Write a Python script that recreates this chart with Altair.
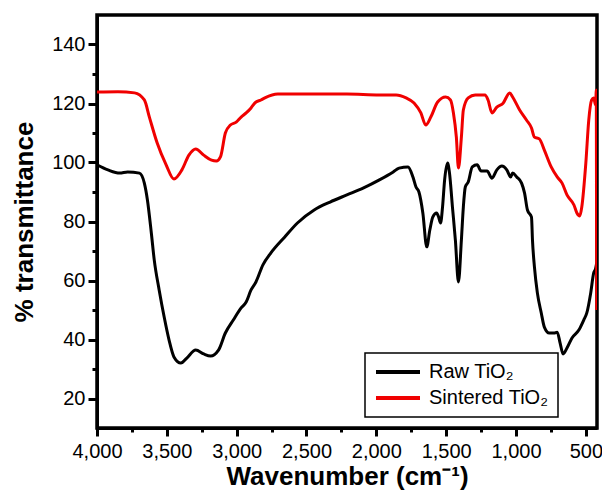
import altair as alt
import pandas as pd

# Raw TiO2 (black)
wn_raw = [4000, 3922, 3837, 3781, 3696, 3661, 3639, 3611, 3590, 3555, 3519, 3484, 3449, 3399,
          3357, 3293, 3236, 3187, 3130, 3081, 3024, 2968, 2932, 2897, 2862, 2812, 2756, 2657,
          2565, 2445, 2331, 2211, 2091, 1978, 1879, 1837, 1773, 1738, 1716, 1695, 1667, 1639,
          1617, 1596, 1568, 1554, 1540, 1526, 1511, 1490, 1476, 1455, 1434, 1412, 1391, 1377,
          1363, 1342, 1313, 1278, 1250, 1207, 1172, 1137, 1101, 1066, 1038, 1024, 995, 960,
          939, 918, 889, 882, 868, 847, 819, 797, 762, 727, 705, 684, 663, 635, 599, 550,
          515, 493, 465, 444, 430, 422]
t_raw = [99.2, 97.5, 96.4, 96.8, 96.4, 93.0, 87.3, 76.1, 66.9, 56.8, 47.6, 39.8, 34.1, 32.0,
         33.7, 36.4, 35.1, 34.4, 36.4, 42.2, 46.6, 50.7, 52.7, 56.8, 59.5, 65.3, 69.3, 74.7,
         79.5, 83.9, 86.6, 89.0, 91.4, 94.1, 96.8, 98.1, 98.5, 95.1, 91.7, 90.0, 82.9, 71.4,
         77.1, 81.5, 82.9, 81.5, 79.5, 84.9, 94.1, 99.8, 96.4, 84.9, 73.7, 59.5, 73.7, 84.9,
         91.7, 93.4, 98.5, 99.2, 97.1, 97.1, 94.7, 97.5, 98.8, 97.5, 95.1, 96.4, 95.1, 93.0,
         89.7, 83.9, 81.5, 73.7, 64.6, 55.8, 49.0, 44.2, 42.2, 42.2, 42.5, 38.8, 35.1, 37.1, 40.5, 43.2,
         46.6, 49.0, 55.8, 62.5, 64.0, 66.0]

# Sintered TiO2 (red)
wn_sint = [4000, 3850, 3731, 3661, 3625, 3569, 3505, 3449, 3392, 3342, 3293, 3236, 3180, 3145,
           3116, 3081, 3045, 3003, 2968, 2932, 2897, 2869, 2826, 2798, 2706, 2445, 2211, 1978,
           1858, 1787, 1730, 1681, 1646, 1610, 1561, 1504, 1469, 1448, 1427, 1412, 1391, 1377,
           1342, 1292, 1222, 1200, 1172, 1137, 1094, 1045, 1024, 974, 925, 889, 868, 833,
           797, 748, 705, 670, 635, 585, 564, 543, 529, 500, 479, 458, 444, 430, 425, 422]
t_sint = [123.9, 124.0, 123.6, 121.2, 115.4, 106.6, 99.2, 94.4, 97.5, 102.5, 104.6, 102.5, 100.8, 100.5,
          101.9, 110.0, 112.7, 113.7, 115.4, 116.8, 118.5, 120.2, 121.2, 121.9, 123.2, 123.2, 123.2, 122.9,
          122.9, 121.9, 120.2, 116.8, 112.7, 115.4, 120.5, 122.2, 121.2, 116.8, 108.6, 98.1, 108.6, 117.8,
          121.9, 122.9, 122.9, 121.2, 116.8, 118.8, 120.0, 123.6, 122.2, 117.8, 114.4, 111.7, 108.6, 108.0,
          104.2, 98.5, 95.1, 93.0, 89.0, 85.6, 82.9, 81.9, 84.9, 99.8, 114.4, 121.2, 121.9, 119.5, 124.5, 50.0]

series_names = ["Raw TiO\u2082", "Sintered TiO\u2082"]
series_colors = ["#000000", "#f00000"]

x_ticks = [4000, 3750, 3500, 3250, 3000, 2750, 2500, 2250, 2000, 1750, 1500, 1250, 1000, 750, 500]
y_ticks = [20, 30, 40, 50, 60, 70, 80, 90, 100, 110, 120, 130, 140]

df = pd.concat([
    pd.DataFrame({"wn": wn_raw, "t": t_raw, "s": series_names[0], "o": range(len(wn_raw))}),
    pd.DataFrame({"wn": wn_sint, "t": t_sint, "s": series_names[1], "o": range(len(wn_sint))}),
])

FONT = "Liberation Sans"

chart = alt.Chart(df).mark_line(strokeWidth=3, clip=True, interpolate="monotone").encode(
    x=alt.X("wn:Q",
            scale=alt.Scale(domain=[420, 4000], reverse=True, nice=False, zero=False),
            axis=alt.Axis(values=x_ticks, format=",d",
                          labelExpr="datum.value % 500 === 0 ? datum.label : ''",
                          labelOverlap=False, labelFlush=False,
                          tickSize={"condition": {"test": "datum.value % 500 === 0", "value": 8}, "value": 4},
                          labelPadding=5, titlePadding=2,
                          title="Wavenumber (cm\u207b\u00b9)")),
    y=alt.Y("t:Q",
            scale=alt.Scale(domain=[10, 150], nice=False, zero=False),
            axis=alt.Axis(values=y_ticks,
                          labelExpr="datum.value % 20 === 0 ? datum.label : ''",
                          labelOverlap=False, labelFlush=False,
                          tickSize={"condition": {"test": "datum.value % 20 === 0", "value": 9}, "value": 5},
                          labelPadding=3, titlePadding=14,
                          title="% transmittance")),
    color=alt.Color("s:N",
                    scale=alt.Scale(domain=series_names, range=series_colors),
                    legend=alt.Legend(title=None, orient="none", legendX=268, legendY=338,
                                      strokeColor="black", fillColor="white",
                                      padding=9, symbolType="stroke", symbolStrokeWidth=4,
                                      symbolSize=1936, clipHeight=20,
                                      labelFontSize=20, labelFont=FONT,
                                      labelColor="black", labelLimit=400, labelOffset=7,
                                      rowPadding=6,
                                      labelExpr="datum.label + '\u00a0\u00a0\u00a0\u00a0\u00a0\u00a0'")),
    order="o:Q",
).properties(
    width=500, height=413,
    autosize=alt.AutoSizeParams(type="none"),
    padding={"left": 89, "top": 7, "right": 5, "bottom": 66},
).configure_view(
    stroke="black", strokeWidth=3.5
).configure_legend(
    strokeWidth=1.5
).configure_axis(
    grid=False, domainColor="black", domainWidth=3, tickColor="black", tickWidth=3,
    labelFont=FONT, labelFontSize=20, labelColor="black",
    titleFont=FONT, titleFontSize=26, titleFontWeight="bold", titleColor="black",
)

chart.save("out.html", embed_options={"renderer": "svg", "actions": False})
